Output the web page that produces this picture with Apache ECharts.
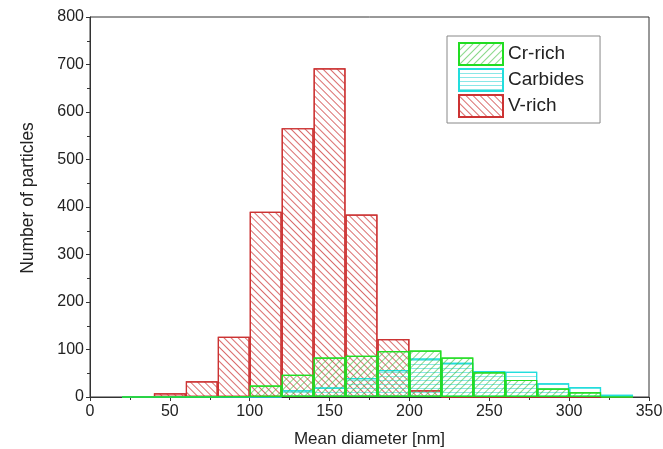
<!DOCTYPE html>
<html>
<head>
<meta charset="utf-8">
<script src="https://cdn.jsdelivr.net/npm/echarts@6/dist/echarts.min.js"></script>
<style>html,body{margin:0;padding:0;background:#fff}#c{width:663px;height:449px}</style>
</head>
<body>
<div id="c"></div>
<script>
// Bin centres (bin width 20 nm)
const binCenters = [30, 50, 70, 90, 110, 130, 150, 170, 190, 210, 230, 250, 270, 290, 310, 330];
const vRich    = [2, 8, 33, 127, 390, 566, 692, 384, 122, 14, 0, 0, 0, 0, 0, 0];
const carbides = [0, 0, 0, 0, 0, 14, 20, 40, 57, 81, 72, 55, 53, 29, 21, 5];
const crRich   = [0, 0, 0, 1, 24, 47, 83, 87, 97, 98, 83, 52, 36, 18, 10, 0];
const legendNames = ['Cr-rich', 'Carbides', 'V-rich'];

const pairs = arr => binCenters.map((x, i) => [x, arr[i]]);
const font = '"Liberation Sans", Arial, sans-serif';

function barSeries(name, data, border, hatch, rot, dashY) {
  return {
    name, type: 'bar', data: pairs(data),
    barWidth: '100%', barGap: '-100%',
    itemStyle: {
      color: 'rgba(255,255,255,0)', borderColor: border, borderWidth: 1.2,
      decal: { symbol: 'rect', symbolSize: 1, dashArrayX: [1, 0], dashArrayY: dashY, rotation: rot, color: hatch }
    },
    emphasis: { disabled: true }
  };
}

const chart = echarts.init(document.getElementById('c'), null, { renderer: 'canvas' });
chart.setOption({
  animation: false,
  backgroundColor: '#fff',
  grid: { left: 90, right: 14, top: 17, bottom: 52, containLabel: false, outerBoundsMode: 'none',
          show: true, borderColor: '#333', borderWidth: 1, backgroundColor: 'transparent' },
  legend: {
    data: legendNames, orient: 'vertical', left: 447, top: 36,
    icon: 'rect', itemWidth: 44, itemHeight: 22, itemGap: 2,
    padding: [6, 16, 5, 11], borderColor: '#888', borderWidth: 1,
    textStyle: { fontFamily: font, fontSize: 19, lineHeight: 22, color: '#222' }
  },
  xAxis: {
    type: 'value', min: 0, max: 350, interval: 50,
    name: 'Mean diameter [nm]', nameLocation: 'middle', nameGap: 34,
    nameTextStyle: { fontFamily: font, fontSize: 17, color: '#222' },
    axisLine: { onZero: false, lineStyle: { color: '#333', width: 1 } },
    axisTick: { show: true, length: 4, lineStyle: { color: '#333' } },
    minorTick: { show: true, splitNumber: 2, length: 3, lineStyle: { color: '#333' } },
    splitLine: { show: false },
    axisLabel: { fontFamily: font, fontSize: 16, color: '#222', margin: 7 }
  },
  yAxis: {
    type: 'value', min: 0, max: 800, interval: 100,
    name: 'Number of particles', nameLocation: 'middle', nameGap: 53,
    nameTextStyle: { fontFamily: font, fontSize: 17.5, color: '#222', padding: [0, 0, 0, 18] },
    axisLine: { show: true, lineStyle: { color: '#333', width: 1 } },
    axisTick: { show: true, length: 4, lineStyle: { color: '#333' } },
    minorTick: { show: true, splitNumber: 2, length: 3, lineStyle: { color: '#333' } },
    splitLine: { show: false },
    axisLabel: { fontFamily: font, fontSize: 16, color: '#222', margin: 6 }
  },
  series: [
    barSeries('V-rich', vRich, '#cc3333', 'rgba(205,60,60,0.75)', Math.PI / 4, [1, 4]),
    barSeries('Carbides', carbides, '#22dddd', 'rgba(60,215,215,0.6)', 0, [1, 3]),
    barSeries('Cr-rich', crRich, '#22dd22', 'rgba(60,190,60,0.6)', -Math.PI / 4, [1, 4])
  ]
});
</script>
</body>
</html>
